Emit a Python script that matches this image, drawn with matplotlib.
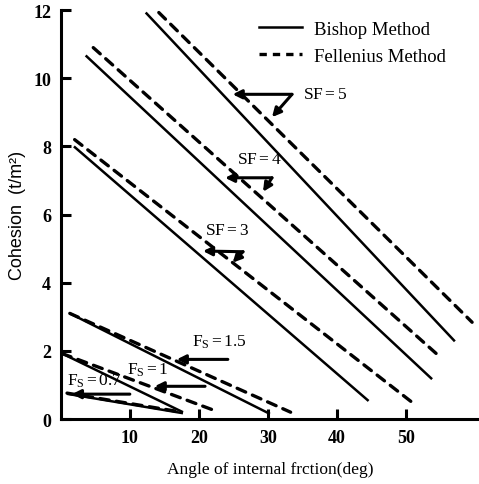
import matplotlib
matplotlib.use("Agg")
import matplotlib.pyplot as plt
from matplotlib.lines import Line2D

plt.rcParams["font.family"] = ["Liberation Serif", "DejaVu Serif"]
plt.rcParams["mathtext.fontset"] = "custom"
plt.rcParams["mathtext.rm"] = "Liberation Serif"
plt.rcParams["mathtext.it"] = "Liberation Serif:italic"

# Stability lines: (phi start, phi end), (c start, c end)
bishop_phi = {"SF5": [12.3, 57.1], "SF4": [3.6, 53.8], "SF3": [1.9, 44.6],
              "Fs1.5": [1.3, 30.3], "Fs1": [0.2, 17.7], "Fs0.7": [0.9, 17.7]}
bishop_c = {"SF5": [11.93, 2.28], "SF4": [10.67, 1.17], "SF3": [8.0, 0.53],
            "Fs1.5": [3.1, 0.15], "Fs1": [1.92, 0.2], "Fs0.7": [0.74, 0.17]}
fellenius_phi = {"SF5": [14.2, 59.6], "SF4": [4.7, 54.8], "SF3": [2.0, 50.9],
                 "Fs1.5": [1.3, 33.3], "Fs1": [0.2, 22.0], "Fs0.7": [0.9, 17.0]}
fellenius_c = {"SF5": [11.93, 2.84], "SF4": [10.9, 1.85], "SF3": [8.2, 0.49],
               "Fs1.5": [3.1, 0.2], "Fs1": [1.92, 0.27], "Fs0.7": [0.76, 0.22]}

# Safety-factor labels: text, label position, arrow tail, arrow tips
labels = [
    ("SF$=$5", (38.3, 9.55), (33.5, 9.53), [(24.9, 9.53), (30.6, 8.86)]),
    ("SF$=$4", (28.8, 7.62), (30.6, 7.08), [(23.8, 7.08), (29.3, 6.67)]),
    ("SF$=$3", (24.1, 5.56), (26.4, 4.91), [(20.6, 4.93), (24.9, 4.59)]),
    ("F$_\\mathrm{S}$$=$1.5", (23.0, 2.28), (24.2, 1.75), [(16.8, 1.75)]),
    ("F$_\\mathrm{S}$$=$1", (12.6, 1.46), (20.9, 0.96), [(13.6, 0.96)]),
    ("F$_\\mathrm{S}$$=$0.7", (4.9, 1.14), (10.0, 0.73), [(1.6, 0.73)]),
]

fig = plt.figure(figsize=(4.79, 4.85), dpi=100)
ax = fig.add_axes([0.127, 0.134, 0.873, 0.843])

for key in bishop_phi:
    ax.plot(bishop_phi[key], bishop_c[key], color="black", lw=1.8,
            solid_capstyle="butt")
    ax.plot(fellenius_phi[key], fellenius_c[key], color="black", lw=2.4,
            linestyle=(0, (2.8, 2.2)), dash_capstyle="round")

for text, tpos, tail, tips in labels:
    ax.text(tpos[0], tpos[1], text, fontsize=12.5, ha="center", va="center")
    for tip in tips:
        ax.annotate("", xy=tip, xytext=tail,
                    arrowprops=dict(arrowstyle="-|>", color="black", lw=2.2,
                                    mutation_scale=13, shrinkA=0, shrinkB=0))

ax.set_xlim(0, 60.6)
ax.set_ylim(0, 12)
ax.set_xticks([10, 20, 30, 40, 50])
ax.set_yticks([0, 2, 4, 6, 8, 10, 12])
ax.tick_params(direction="in", length=7, width=2.2, labelsize=13, pad=7)
for lab in ax.get_xticklabels() + ax.get_yticklabels():
    lab.set_fontweight("bold")
ax.spines["top"].set_visible(False)
ax.spines["right"].set_visible(False)
for s in ("left", "bottom"):
    ax.spines[s].set_linewidth(2.2)

ax.set_xlabel("Angle of internal frction(deg)", fontsize=12.5, labelpad=11)
fig.text(0.036, 0.555, "Cohesion  (t/m²)", rotation=90, fontsize=13,
         family=["Liberation Sans", "DejaVu Sans"], ha="center", va="center")

handles = [Line2D([], [], color="black", lw=1.8),
           Line2D([], [], color="black", lw=2.4, linestyle=(0, (2.2, 1.8)))]
ax.legend(handles, ["Bishop Method", "Fellenius Method"], frameon=False,
          loc="upper left", bbox_to_anchor=(0.433, 1.015), fontsize=13.5,
          handlelength=2.3, handletextpad=0.65, labelspacing=0.5)

fig.savefig("out.png", dpi=100)
